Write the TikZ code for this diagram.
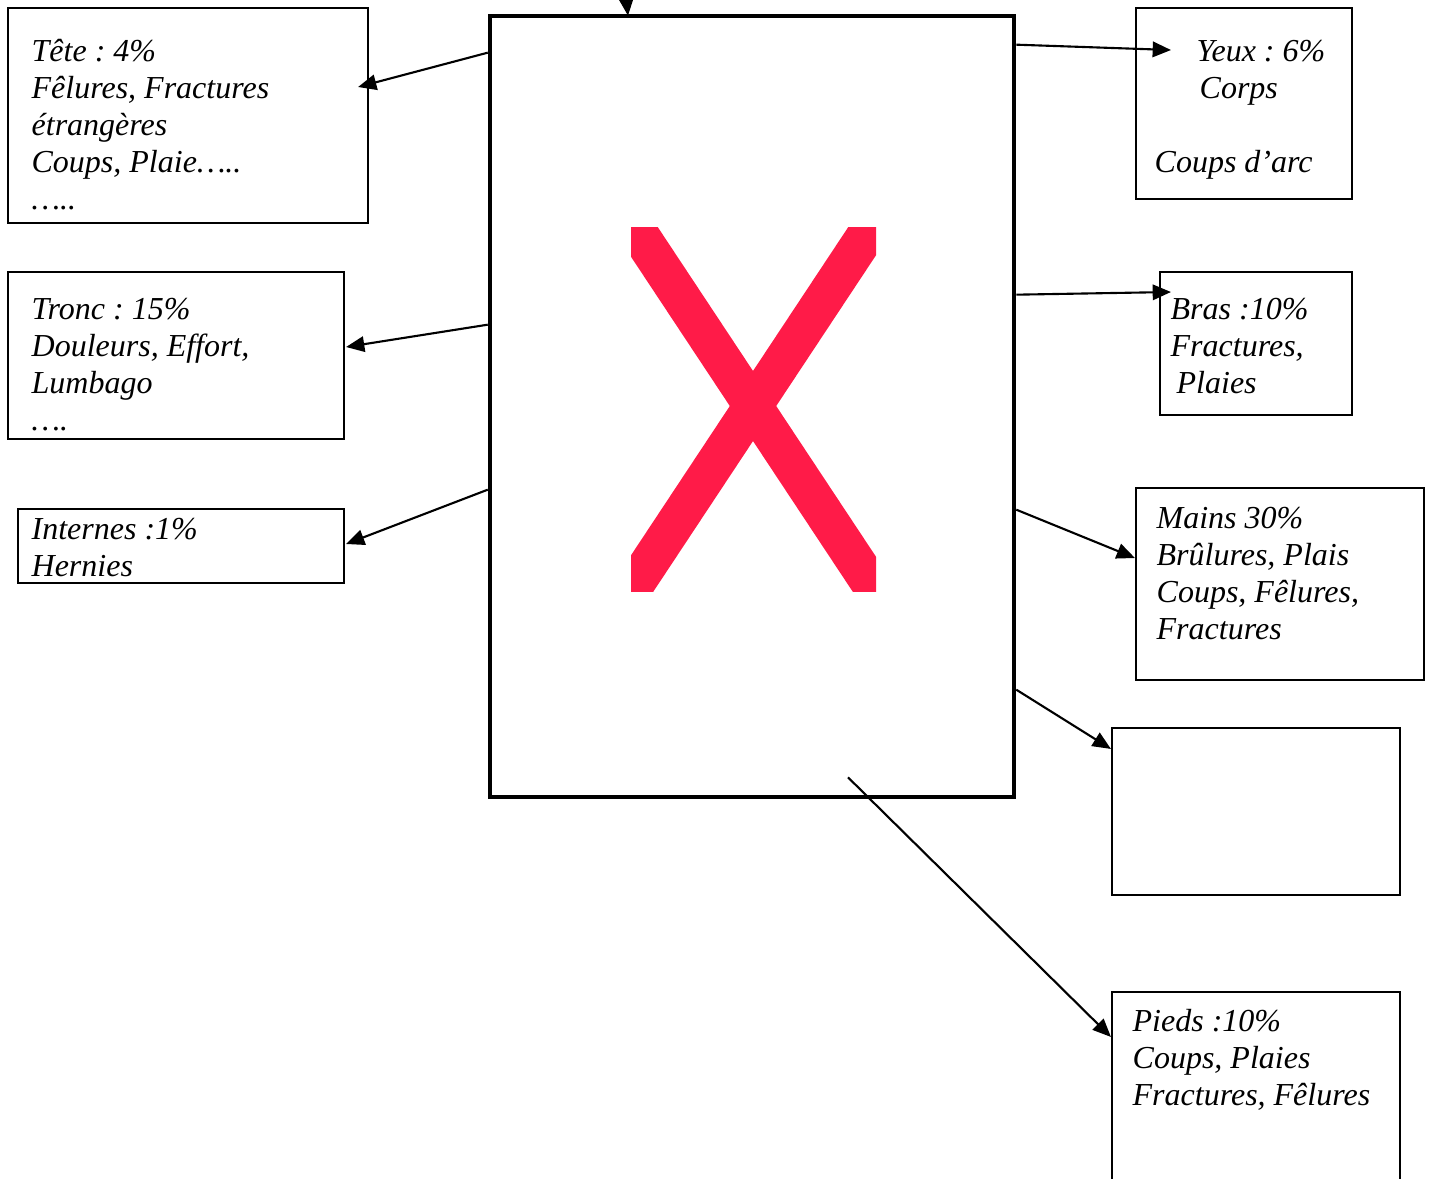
\documentclass[tikz,border=0pt]{standalone}
\usepackage{fontspec}
\setmainfont{Liberation Serif}
\usetikzlibrary{arrows.meta,fit}
\frenchspacing

\begin{document}
\begin{tikzpicture}[
    x=0.01cm, y=-0.01cm,
    every node/.style={font=\fontsize{9.1}{10.5}\selectfont\itshape},
    boite/.style={draw, line width=0.6pt, inner sep=0pt},
    texte/.style={anchor=north west, inner sep=0pt, align=left},
    fleche/.style={-{Triangle[length=5.2pt,width=4.4pt]}, line width=0.6pt},
]

\definecolor{croix}{RGB}{255,27,72}

\useasboundingbox (0,0) rectangle (1431,1178);

% ---------- macro: one box of the chart ----------
% #1 = name, #2 = top-left corner, #3 = bottom-right corner
% #4 = shift of the text from the top-left corner, #5 = text
\newcommand{\zonebox}[5]{%
    \coordinate (#1-nw) at #2;
    \coordinate (#1-se) at #3;
    \node[boite, fit=(#1-nw)(#1-se)] (#1) {};
    \node[texte] (#1-txt) at ([shift={#4}]#1.north west) {\strut #5};
}

% central picture (missing image)
\node[draw, line width=1.2pt, inner sep=0pt, minimum width=52.4mm,
      minimum height=78.1mm] (corps) at (752,406.5) {};
\begin{scope}
    \clip (631,227) rectangle (876,591);
    \draw[croix, line width=11pt] (587.5,156) -- (918.5,656);
    \draw[croix, line width=11pt] (918.5,156) -- (587.5,656);
\end{scope}

% left column
\zonebox{tete}{(8,8)}{(368,223)}{(24,28)}{T\^ete : 4\%\\F\^elures, Fractures\\\'etrang\`eres\\Coups, Plaie\dots..\\\dots..}
\zonebox{tronc}{(8,272)}{(344,439)}{(24,22)}{Tronc : 15\%\\Douleurs, Effort,\\Lumbago\\\dots.}
\zonebox{internes}{(18,509)}{(344,583)}{(14,5)}{Internes :1\%\\Hernies}

% right column
\zonebox{yeux}{(1136,8)}{(1352,199)}{(19,28)}{\hspace*{4.2mm}Yeux : 6\%\\\hspace*{4.5mm}Corps\\\mbox{}\\Coups d’arc}
\zonebox{bras}{(1160,272)}{(1352,415)}{(11,22)}{Bras :10\%\\Fractures,\\\hspace*{0.6mm}Plaies}
\zonebox{mains}{(1136,488)}{(1424,680)}{(21,15)}{Mains 30\%\\Br\^ulures, Plais\\Coups, F\^elures,\\Fractures}
\zonebox{vide}{(1112,728)}{(1400,895)}{(0,0)}{}
\zonebox{pieds}{(1112,992)}{(1400,1200)}{(21,14)}{Pieds :10\%\\Coups, Plaies\\Fractures, F\^elures}

% arrows
\coordinate (haut) at (620,-60);
\draw[fleche] (haut) -- ([shift={(-124,2)}]corps.north);
\draw[fleche] ([shift={(0,39)}]corps.north west) -- ([shift={(-11,-28.5)}]tete.east);
\draw[fleche] ([shift={(0,311)}]corps.north west) -- ([shift={(1,-8.5)}]tronc.east);
\draw[fleche] ([shift={(0,476)}]corps.north west) -- ([shift={(1,-2)}]internes.east);
\draw[fleche] ([shift={(0,31)}]corps.north east) -- ([shift={(36,-53.5)}]yeux.west);
\draw[fleche] ([shift={(0,281)}]corps.north east) -- ([shift={(12,-51.5)}]bras.west);
\draw[fleche] ([shift={(0,496)}]corps.north east) -- ([shift={(0,-26)}]mains.west);
\draw[fleche] ([shift={(0,676)}]corps.north east) -- ([shift={(0,22)}]vide.north west);
\draw[fleche] ([shift={(96,-22)}]corps.south) -- ([shift={(0,46)}]pieds.north west);

\end{tikzpicture}
\end{document}
